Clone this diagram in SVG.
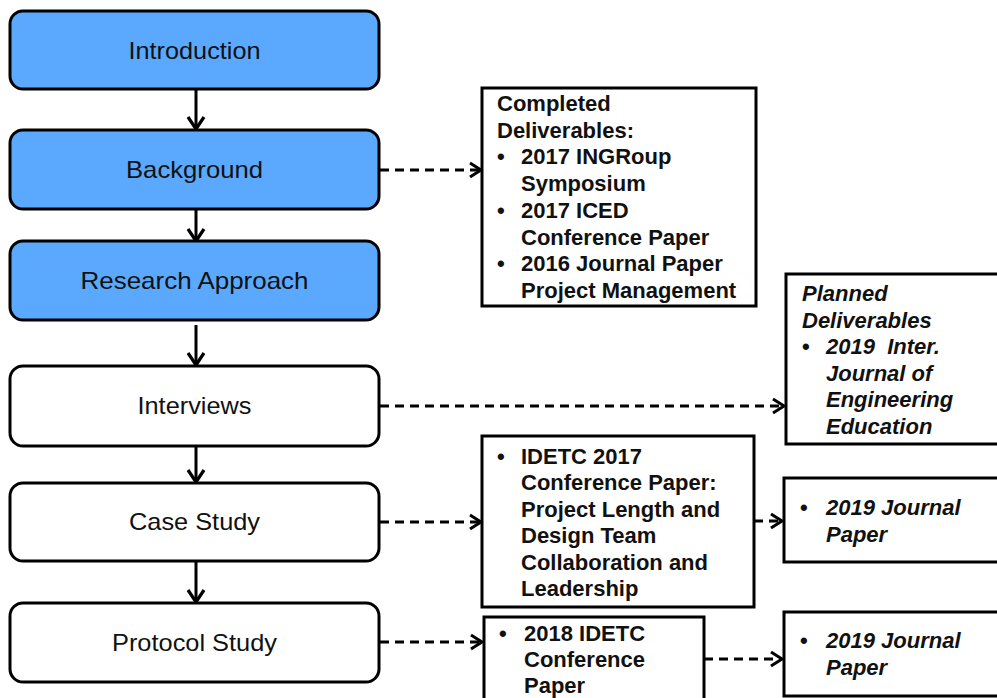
<svg xmlns="http://www.w3.org/2000/svg" width="997" height="698" viewBox="0 0 997 698">
  <defs>
    <style>
      .node { stroke: #000; stroke-width: 3; }
      .blue { fill: #5AA9FE; }
      .white { fill: #fff; }
      .lbl { font-family: "Liberation Sans", Arial, sans-serif; font-size: 24px; fill: #111; text-anchor: middle; }
      .box { fill: #fff; stroke: #000; stroke-width: 3; }
      .bt { font-family: "Liberation Sans", Arial, sans-serif; font-size: 22px; font-weight: bold; fill: #111; }
      .it { font-style: italic; }
      .solid { stroke: #000; stroke-width: 3; fill: none; }
      .dash { stroke: #000; stroke-width: 3; fill: none; stroke-dasharray: 9 6; }
    </style>
    <marker id="vhead" markerUnits="userSpaceOnUse" viewBox="-2 -2 18 20" markerWidth="18" markerHeight="20" refX="12" refY="8" orient="auto" overflow="visible">
      <path d="M0,0 L12,8 L0,16" fill="none" stroke="#000" stroke-width="3.2" stroke-linejoin="miter"/>
    </marker>
    <marker id="hhead" markerUnits="userSpaceOnUse" viewBox="-2 -2 16 18" markerWidth="16" markerHeight="18" refX="11" refY="7" orient="auto" overflow="visible">
      <path d="M0,0 L11,7 L0,14" fill="none" stroke="#000" stroke-width="3" stroke-linejoin="miter"/>
    </marker>
  </defs>
  <rect width="997" height="698" fill="#fff"/>

  <g id="connectors">
    <line class="solid" x1="196" y1="89" x2="196" y2="129" marker-end="url(#vhead)"/>
    <line class="solid" x1="196" y1="209" x2="196" y2="241" marker-end="url(#vhead)"/>
    <line class="solid" x1="196" y1="325" x2="196" y2="365" marker-end="url(#vhead)"/>
    <line class="solid" x1="196" y1="446" x2="196" y2="482" marker-end="url(#vhead)"/>
    <line class="solid" x1="196" y1="561" x2="196" y2="602" marker-end="url(#vhead)"/>

    <line class="dash" x1="380" y1="170" x2="481" y2="170" marker-end="url(#hhead)"/>
    <line class="dash" x1="380" y1="406" x2="784" y2="406" marker-end="url(#hhead)"/>
    <line class="dash" x1="380" y1="522" x2="481" y2="522" marker-end="url(#hhead)"/>
    <line class="dash" x1="754" y1="521" x2="782" y2="521" marker-end="url(#hhead)"/>
    <line class="dash" x1="380" y1="642" x2="482" y2="642" marker-end="url(#hhead)"/>
    <line class="dash" x1="704" y1="659" x2="782" y2="659" marker-end="url(#hhead)"/>
  </g>

  <g id="introduction">
    <rect class="node blue" x="10" y="11" width="369" height="78" rx="13"/>
    <text class="lbl" x="194.5" y="58.5" textLength="132" lengthAdjust="spacingAndGlyphs">Introduction</text>
  </g>
  <g id="background">
    <rect class="node blue" x="10" y="130" width="369" height="79" rx="13"/>
    <text class="lbl" x="194.5" y="178" textLength="137" lengthAdjust="spacingAndGlyphs">Background</text>
  </g>
  <g id="research-approach">
    <rect class="node blue" x="10" y="241" width="369" height="79" rx="13"/>
    <text class="lbl" x="194.5" y="289" textLength="228" lengthAdjust="spacingAndGlyphs">Research Approach</text>
  </g>
  <g id="interviews">
    <rect class="node white" x="10" y="366" width="369" height="80" rx="13"/>
    <text class="lbl" x="194.5" y="414" textLength="114" lengthAdjust="spacingAndGlyphs">Interviews</text>
  </g>
  <g id="case-study">
    <rect class="node white" x="10" y="483" width="369" height="78" rx="13"/>
    <text class="lbl" x="194.5" y="530" textLength="131" lengthAdjust="spacingAndGlyphs">Case Study</text>
  </g>
  <g id="protocol-study">
    <rect class="node white" x="10" y="603" width="369" height="79" rx="13"/>
    <text class="lbl" x="194.5" y="650.5" textLength="165" lengthAdjust="spacingAndGlyphs">Protocol Study</text>
  </g>

  <g id="completed-deliverables">
    <rect class="box" x="482" y="88" width="274" height="218"/>
    <text class="bt" x="497" y="111">Completed</text>
    <text class="bt" x="497" y="137.7">Deliverables:</text>
    <text class="bt" x="497" y="164.4">•</text>
    <text class="bt" x="521" y="164.4">2017 INGRoup</text>
    <text class="bt" x="521" y="191.1">Symposium</text>
    <text class="bt" x="497" y="217.8">•</text>
    <text class="bt" x="521" y="217.8">2017 ICED</text>
    <text class="bt" x="521" y="244.5">Conference Paper</text>
    <text class="bt" x="497" y="271.2">•</text>
    <text class="bt" x="521" y="271.2">2016 Journal Paper</text>
    <text class="bt" x="521" y="297.9">Project Management</text>
  </g>

  <g id="planned-deliverables">
    <rect class="box" x="786" y="274" width="230" height="170"/>
    <text class="bt it" x="802" y="301">Planned</text>
    <text class="bt it" x="802" y="327.5">Deliverables</text>
    <text class="bt" x="802" y="354">•</text>
    <text class="bt it" x="826" y="354">2019&#160; Inter.</text>
    <text class="bt it" x="826" y="380.5">Journal of</text>
    <text class="bt it" x="826" y="407">Engineering</text>
    <text class="bt it" x="826" y="433.5">Education</text>
  </g>

  <g id="idetc-2017">
    <rect class="box" x="482" y="436" width="272" height="171"/>
    <text class="bt" x="497" y="463.5">•</text>
    <text class="bt" x="521" y="463.5">IDETC 2017</text>
    <text class="bt" x="521" y="490">Conference Paper:</text>
    <text class="bt" x="521" y="516.5">Project Length and</text>
    <text class="bt" x="521" y="543">Design Team</text>
    <text class="bt" x="521" y="569.5">Collaboration and</text>
    <text class="bt" x="521" y="596">Leadership</text>
  </g>

  <g id="journal-2019-a">
    <rect class="box" x="784" y="478" width="232" height="84"/>
    <text class="bt" x="800" y="515">•</text>
    <text class="bt it" x="826" y="515">2019 Journal</text>
    <text class="bt it" x="826" y="541.5">Paper</text>
  </g>

  <g id="idetc-2018">
    <rect class="box" x="484" y="617" width="220" height="100"/>
    <text class="bt" x="499" y="641">•</text>
    <text class="bt" x="524" y="641">2018 IDETC</text>
    <text class="bt" x="524" y="667">Conference</text>
    <text class="bt" x="524" y="693">Paper</text>
  </g>

  <g id="journal-2019-b">
    <rect class="box" x="784" y="612" width="232" height="84"/>
    <text class="bt" x="800" y="648">•</text>
    <text class="bt it" x="826" y="648">2019 Journal</text>
    <text class="bt it" x="826" y="674.5">Paper</text>
  </g>
</svg>
